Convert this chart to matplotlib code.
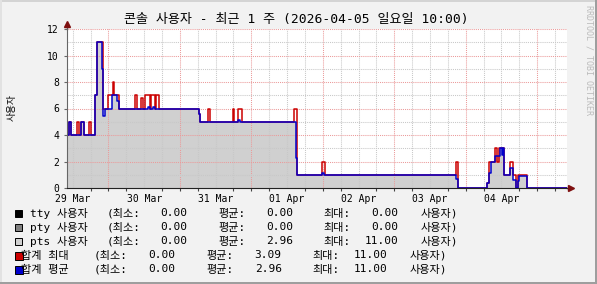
import matplotlib
matplotlib.use('Agg')
import matplotlib.pyplot as plt
from matplotlib.patches import Rectangle

W, H = 597, 284
MONO = ['DejaVu Sans Mono', 'Noto Sans CJK KR']

title = '콘솔 사용자 - 최근 1 주 (2026-04-05 일요일 10:00)'
y_label = '사용자'
watermark = 'RRDTOOL / TOBI OETIKER'

# x axis: hours since 2026-03-29 10:00
day_labels = ['29 Mar', '30 Mar', '31 Mar', '01 Apr', '02 Apr', '03 Apr', '04 Apr']
day_noon = [2, 26, 50, 74, 98, 122, 146]
midnights = [14, 38, 62, 86, 110, 134, 158]

# pts users, average (grey area + blue line)
avg_t = [0, 0.74, 1.51, 4.86, 5.97, 9.65, 10.22, 12.0, 12.17, 12.71, 15.15, 16.93,
         17.70, 27.22, 27.89, 28.90, 29.67, 44.52, 44.85, 57.59, 58.06, 76.94, 77.37,
         85.89, 86.56, 130.81, 131.35, 141.20, 141.74, 142.54, 143.75, 145.66, 146.16,
         146.50, 147.00, 148.78, 149.78, 150.79, 151.46, 152.03, 154.61, 168]
avg_v = [4, 5, 4, 5, 4, 7, 11, 9, 5.4, 6, 7, 6.6,
         6, 6.1, 6, 6.1, 6, 5.6, 5, 5.1, 5, 2.3, 1,
         1.1, 1, 0.7, 0, 0.4, 1.1, 2, 2.4, 3, 2.5,
         3, 1, 1.5, 0.6, 0, 0.5, 0.9, 0, 0]

# total max (red line)
max_t = [0, 0.74, 1.51, 3.52, 4.19, 4.86, 5.97, 7.54, 8.21, 9.65, 10.06, 12.07,
         12.24, 13.81, 15.49, 16.02, 17.70, 23.06, 23.63, 24.97, 25.54, 26.42, 27.99,
         28.33, 29.67, 30.00, 31.11, 44.52, 44.85, 47.44, 48.00, 55.72, 56.06, 57.59,
         58.73, 76.37, 77.17, 77.37, 85.65, 86.76, 130.57, 131.35, 141.20, 141.74,
         143.75, 144.56, 145.33, 147.00, 148.78, 149.78, 150.79, 151.46, 154.61, 168]
max_v = [4, 5, 4, 5, 4, 5, 4, 5, 4, 7, 11, 9,
         6, 7, 8, 7, 6, 7, 6, 6.8, 6, 7, 6,
         7, 6, 7, 6, 5.6, 5, 6, 5, 6, 5, 6,
         5, 6, 2.3, 1, 2, 1, 2, 0, 0.4, 2,
         3, 2, 3, 1, 2, 1, 0, 1, 0, 0]

legend_names = ['tty 사용자', 'pty 사용자', 'pts 사용자', '합계 최대', '합계 평균']
legend_colors = ['#000000', '#808080', '#d0d0d0', '#cc0000', '#0000cc']
stat_min = [0.00, 0.00, 0.00, 0.00, 0.00]
stat_avg = [0.00, 0.00, 2.96, 3.09, 2.96]
stat_max = [0.00, 0.00, 11.00, 11.00, 11.00]


def fx(px):
    return px / W


def fy(py):
    return 1 - py / H


fig = plt.figure(figsize=(W / 100, H / 100), dpi=100)
fig.patch.set_facecolor('#f2f2f2')

ax = fig.add_axes([fx(66.7), fy(188), (567 - 66.7) / W, (188 - 29) / H])
ax.set_facecolor('white')
ax.set_xlim(0, 168)
ax.set_ylim(0, 12)

ax.fill_between(avg_t, avg_v, step='post', color='#d0d0d0', lw=0, zorder=1)

# grid (drawn over the area like rrdtool)
for h in range(2, 168, 6):
    if h in midnights:
        ax.axvline(h, color='#eb9a9a', lw=0.75, ls=(0, (1, 1)), zorder=2)
    else:
        ax.axvline(h, color='#c8c8c8', lw=0.75, ls=(0, (1, 1)), zorder=2)
for v in range(1, 13):
    if v % 2 == 0:
        ax.axhline(v, color='#eb9a9a', lw=0.75, ls=(0, (1, 1)), zorder=2)
    else:
        ax.axhline(v, color='#c8c8c8', lw=0.75, ls=(0, (1, 1)), zorder=2)

ax.plot(max_t, max_v, drawstyle='steps-post', color='#cc0000', lw=1.1, zorder=3)
ax.plot(avg_t, avg_v, drawstyle='steps-post', color='#0000cc', lw=1.1, zorder=4)

for s in ['top', 'right']:
    ax.spines[s].set_visible(False)
ax.spines['left'].set_color('#666666')
ax.spines['bottom'].set_color('#222222')
ax.spines['left'].set_zorder(5)
ax.spines['bottom'].set_zorder(5)

# axis arrows
ax.plot([1, 1.008], [0, 0], color='#222222', lw=1, transform=ax.transAxes, clip_on=False, zorder=5)
ax.plot([1.008], [0], marker='>', ms=4, color='#7f1010', transform=ax.transAxes, clip_on=False, zorder=6)
ax.plot([0, 0], [1, 1.025], color='#666666', lw=1, transform=ax.transAxes, clip_on=False, zorder=5)
ax.plot([0], [1.03], marker='^', ms=4, color='#7f1010', transform=ax.transAxes, clip_on=False, zorder=6)

ax.set_yticks(range(0, 13, 2))
ax.set_yticklabels([str(v) for v in range(0, 13, 2)], family=MONO, fontsize=7)
ax.tick_params(axis='y', length=2, width=0.8, color='#666666', pad=3.5)

ax.set_xticks(day_noon)
ax.set_xticklabels(day_labels, family=MONO, fontsize=7)
ax.set_xticks(list(range(2, 168, 6)), minor=True)
ax.tick_params(axis='x', which='major', length=0, pad=4)
ax.tick_params(axis='x', which='minor', length=2, width=0.8, color='#444444')

fig.text(0.497, fy(19.5), title, ha='center', va='center', fontsize=9.4, family=MONO)
fig.text(fx(12), fy(107), y_label, rotation=90, ha='center', va='center', fontsize=7, family=MONO)
fig.text(fx(589), fy(60), watermark, rotation=270, ha='center', va='center',
         fontsize=6, color='#bbbbbb', family=MONO)

# legend
row_y = [213.5, 227.5, 241.5, 255.5, 269.5]
for i, name in enumerate(legend_names):
    y = fy(row_y[i])
    if i < 3:
        fig.add_artist(Rectangle((fx(15), fy(row_y[i] + 3.5)), 7 / W, 7 / H, transform=fig.transFigure,
                                 facecolor=legend_colors[i], edgecolor='black', lw=0.7))
        cols = [30, 107, 187, 218.5, 293, 323.5, 398.5, 420.5]
    else:
        fig.add_artist(Rectangle((fx(15), fy(row_y[i] + 4)), 8 / W, 8 / H, transform=fig.transFigure,
                                 facecolor=legend_colors[i], edgecolor='black', lw=0.7))
        cols = [21, 94, 175.5, 206.7, 281.7, 312.3, 387.3, 409.3]
    kw = dict(va='center', fontsize=8, family=MONO)
    fig.text(fx(cols[0]), y, name, ha='left', **kw)
    fig.text(fx(cols[1]), y, '(최소:', ha='left', **kw)
    fig.text(fx(cols[2]), y, '%.2f' % stat_min[i], ha='right', **kw)
    fig.text(fx(cols[3]), y, '평균:', ha='left', **kw)
    fig.text(fx(cols[4]), y, '%.2f' % stat_avg[i], ha='right', **kw)
    fig.text(fx(cols[5]), y, '최대:', ha='left', **kw)
    fig.text(fx(cols[6]), y, '%.2f' % stat_max[i], ha='right', **kw)
    fig.text(fx(cols[7]), y, '사용자)', ha='left', **kw)

# 3d border
fig.add_artist(Rectangle((0, fy(2)), 1, 2 / H, transform=fig.transFigure, color='#d4d4d4', lw=0))
fig.add_artist(Rectangle((0, 0), 2 / W, 1, transform=fig.transFigure, color='#e2e2e2', lw=0))
fig.add_artist(Rectangle((0, 0), 1, 2.5 / H, transform=fig.transFigure, color='#9e9e9e', lw=0))
fig.add_artist(Rectangle((fx(594.5), 0), 2.5 / W, 1, transform=fig.transFigure, color='#9e9e9e', lw=0))

fig.savefig('out.png', dpi=100, facecolor=fig.get_facecolor())
